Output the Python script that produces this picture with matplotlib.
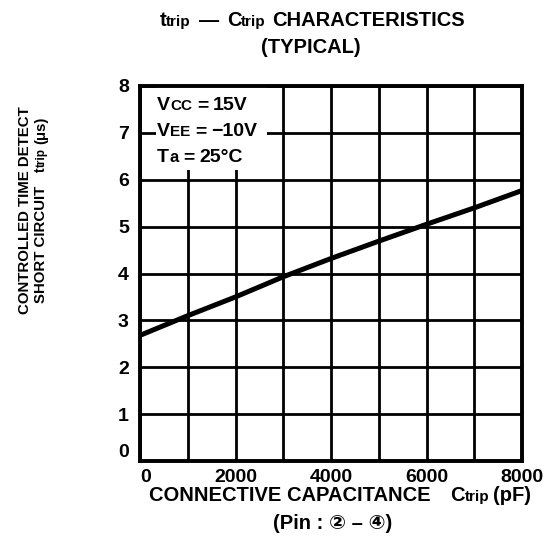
import matplotlib
matplotlib.use('Agg')
import matplotlib.pyplot as plt
import numpy as np
from matplotlib.patches import Rectangle

# ---- data ----
capacitance_pf = [0, 1000, 2000, 3000, 4000, 5000, 6000, 7000, 8000]
t_trip_us = [2.68, 3.10, 3.50, 3.93, 4.32, 4.69, 5.05, 5.40, 5.77]
x_tick_values = [0, 2000, 4000, 6000, 8000]
x_grid_values = [1000, 3000, 5000, 7000]
y_tick_values = [0, 1, 2, 3, 4, 5, 6, 7, 8]

W, H = 548, 545
FONT = ['Liberation Sans', 'DejaVu Sans', 'Noto Sans CJK JP']
plt.rcParams['font.family'] = FONT
plt.rcParams['font.weight'] = 'bold'

fig = plt.figure(figsize=(W / 100, H / 100), dpi=100)
ax = fig.add_axes([140 / W, (H - 461) / H, 382 / W, 375 / H])
ax.set_xlim(0, 8000)
ax.set_ylim(0, 8)
ax.set_xticks(x_tick_values)
ax.set_xticks(x_grid_values, minor=True)
ax.set_yticks(y_tick_values)
ax.grid(which='both', color='black', lw=2.0)
ax.tick_params(which='both', length=0, labelsize=14)
ax.tick_params(axis='x', pad=6)
ax.tick_params(axis='y', pad=8)
for lbl in ax.get_xticklabels() + ax.get_yticklabels():
    lbl.set_fontweight('bold')
ax.get_xticklabels()[0].set_ha('left')
ax.get_yticklabels()[0].set_va('bottom')
for s in ax.spines.values():
    s.set_linewidth(2.8)

ax.plot(capacitance_pf, t_trip_us, color='black', lw=3.6, zorder=3,
        solid_capstyle='butt')
ax.add_patch(Rectangle((330, 6.2), 2320, 1.8, fc='white', ec='none', zorder=2))

renderer = fig.canvas.get_renderer()


def rich(x, y_top, pieces, ha='left', rotation=0):
    """pieces: list of (text, size) or numbers (gap in px). x,y in pixels from top-left."""
    ws = []
    for p in pieces:
        if isinstance(p, (int, float)):
            ws.append(p)
        else:
            t = fig.text(0, 0, p[0], fontsize=p[1], fontweight='bold')
            ws.append(t.get_window_extent(renderer).width)
            t.remove()
    total = sum(ws)
    d = {'left': 0, 'center': -total / 2, 'right': -total}[ha]
    th = np.deg2rad(rotation)
    y = H - y_top
    for p, w in zip(pieces, ws):
        if not isinstance(p, (int, float)):
            fig.text((x + d * np.cos(th)) / W, (y + d * np.sin(th)) / H, p[0],
                     fontsize=p[1], fontweight='bold', rotation=rotation,
                     rotation_mode='anchor', ha='left', va='baseline', zorder=5)
        d += w


# title
rich(312, 26, [('t', 14.5), ('trip', 11), 8, ('—', 14.5), 8, ('C', 14.5), ('trip', 11), 6,
               ('CHARACTERISTICS', 14.5)], ha='center')
rich(311, 53, [('(TYPICAL)', 14.5)], ha='center')

# x label
rich(340, 501, [('CONNECTIVE CAPACITANCE', 14.5), 20, ('C', 14.5), ('trip', 11), 4,
                ('(pF)', 14.5)], ha='center')
rich(333, 529, [('(Pin : ② – ④)', 14.5)], ha='center')

# y label (two rotated lines)
rich(29, 210, [('CONTROLLED TIME DETECT', 10.8)], ha='center', rotation=90)
rich(45, 210, [('SHORT CIRCUIT', 10.8), 14, ('t', 10), ('trip', 8.5), 4, ('(μs)', 10.8)],
     ha='center', rotation=90)

# conditions
rich(157, 110, [('V', 14), ('CC', 11), 5, ('=', 14), 5, ('15V', 14)])
rich(157, 136, [('V', 14), ('EE', 11), 5, ('=', 14), 5, ('−10V', 14)])
rich(157, 162, [('T', 14), ('a', 12), 5, ('=', 14), 5, ('25°C', 14)])

fig.savefig('out.png', dpi=100)
